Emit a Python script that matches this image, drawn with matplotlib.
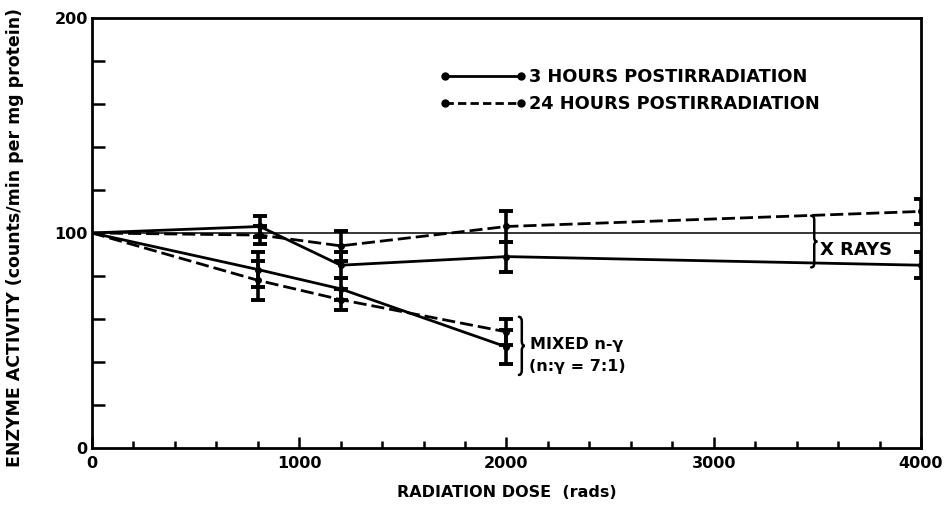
import numpy as np
import matplotlib
matplotlib.use("Agg")
import matplotlib.pyplot as plt
from matplotlib.path import Path
from matplotlib.patches import PathPatch
from matplotlib.lines import Line2D

# X-ray data
xray_dose = [0, 810, 1200, 2000, 4000]
xray_3h = [100, 103, 85, 89, 85]
xray_3h_err = [0, 5, 6, 7, 6]
xray_24h = [100, 99, 94, 103, 110]
xray_24h_err = [0, 4, 7, 7, 6]

# mixed n-gamma data
mixed_dose = [0, 800, 1200, 2000]
mixed_3h = [100, 83, 74, 47]
mixed_3h_err = [0, 8, 5, 8]
mixed_24h = [100, 78, 69, 54]
mixed_24h_err = [0, 9, 5, 6]

legend_labels = ["3 HOURS POSTIRRADIATION", "24 HOURS POSTIRRADIATION"]

plt.rcParams['font.family'] = ['DejaVu Sans']
plt.rcParams['font.weight'] = 'bold'

fig = plt.figure(figsize=(9.52, 5.08), dpi=100)
ax = fig.add_axes([0.0966, 0.118, 0.8708, 0.8469])

LW = 2.0
DASH = (4.7, 1.8)


def draw_series(x, y, err, dashed):
    ls = '--' if dashed else '-'
    line, = ax.plot(x, y, color='black', lw=LW, ls=ls)
    if dashed:
        line.set_dashes(DASH)
    ax.errorbar(x[1:], y[1:], yerr=err[1:], fmt='o', color='black',
                ms=4, elinewidth=2.6, capsize=5, capthick=2.8)


draw_series(xray_dose, xray_3h, xray_3h_err, False)
draw_series(xray_dose, xray_24h, xray_24h_err, True)
draw_series(mixed_dose, mixed_3h, mixed_3h_err, False)
draw_series(mixed_dose, mixed_24h, mixed_24h_err, True)

# control level
ax.axhline(100, color='black', lw=1.1)


def brace(x, y0, y1, w):
    # simple right-pointing curly brace
    mid = (y0 + y1) / 2
    d = (y1 - y0) * 0.08
    verts = [(x, y1), (x + w / 2, y1), (x + w / 2, y1 - d),
             (x + w / 2, mid + d),
             (x + w / 2, mid), (x + w, mid),
             (x + w / 2, mid), (x + w / 2, mid - d),
             (x + w / 2, y0 + d),
             (x + w / 2, y0), (x, y0)]
    codes = [Path.MOVETO, Path.CURVE3, Path.CURVE3, Path.LINETO,
             Path.CURVE3, Path.CURVE3, Path.CURVE3, Path.CURVE3,
             Path.LINETO, Path.CURVE3, Path.CURVE3]
    ax.add_patch(PathPatch(Path(verts, codes), fill=False, lw=1.8,
                           color='black', capstyle='round'))


brace(3470, 84, 108, 30)
ax.text(3515, 92, "X RAYS", fontsize=13, fontweight='bold',
        va='center', ha='left')

brace(2060, 34, 61, 28)
ax.text(2340, 43, "MIXED n-γ\n(n:γ = 7:1)", fontsize=11.5,
        fontweight='bold', va='center', ha='center',
        multialignment='center', linespacing=1.55)

# legend
handles = [Line2D([], [], color='black', lw=LW, marker='o', ms=5),
           Line2D([], [], color='black', lw=LW, ls='--', dashes=(3, 1.5),
                  marker='o', ms=5)]
leg = ax.legend(handles, legend_labels, loc='upper left',
                bbox_to_anchor=(0.445, 0.897), bbox_transform=fig.transFigure,
                frameon=False, numpoints=2, handlelength=4.9,
                handletextpad=0.1, labelspacing=0.5,
                prop={'size': 12.8, 'weight': 'bold'})

ax.set_xlim(0, 4000)
ax.set_ylim(0, 200)
ax.set_xticks([0, 1000, 2000, 3000, 4000])
ax.set_xticks(np.arange(200, 4000, 200), minor=True)
ax.set_yticks([0, 100, 200])
ax.set_yticks(np.arange(20, 200, 20), minor=True)
ax.tick_params(which='major', direction='in', length=8, width=1.8,
               labelsize=11.5, pad=6)
ax.tick_params(which='minor', direction='in', length=5, width=1.8)
ax.tick_params(axis='y', which='major', length=0, pad=3)
ax.tick_params(axis='y', which='minor', length=9)
for lab in ax.get_xticklabels() + ax.get_yticklabels():
    lab.set_fontweight('bold')

for s in ax.spines.values():
    s.set_linewidth(2.0)

ax.set_xlabel("RADIATION DOSE  (rads)", fontsize=11.5, fontweight='bold')
ax.set_ylabel("ENZYME ACTIVITY (counts/min per mg protein)", fontsize=12.5,
              fontweight='bold')
ax.xaxis.set_label_coords(0.5, -0.085)
ax.yaxis.set_label_coords(-0.082, 0.49)

fig.savefig("out.png", dpi=100)
